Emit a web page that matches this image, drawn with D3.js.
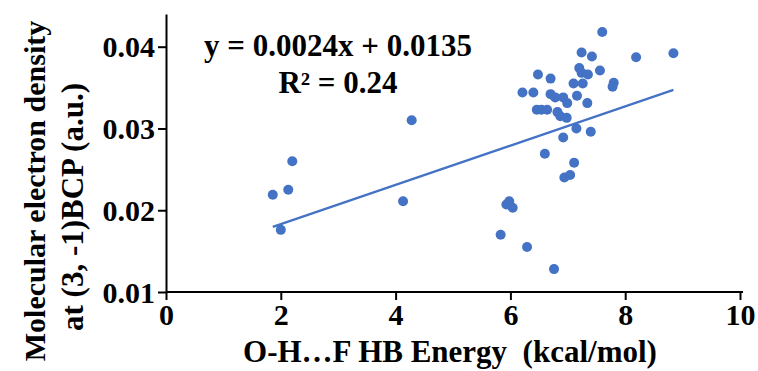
<!DOCTYPE html>
<html>
<head>
<meta charset="utf-8">
<script src="https://cdn.jsdelivr.net/npm/d3@7"></script>
<style>
  body { margin: 0; background: #fff; }
  svg text { font-family: 'Liberation Serif', 'Times New Roman', serif; font-weight: bold; fill: #000; }
</style>
</head>
<body>
<svg id="chart" width="758" height="371"></svg>
<script>
// HB energy (kcal/mol) vs electron density at BCP (a.u.)
var energy = [
  1.86, 2.13, 2.20, 2.00, 4.13, 4.28,
  5.83, 6.29, 6.76, 5.93, 5.98, 6.04,
  6.60, 6.94, 7.04, 7.11, 6.92, 7.15, 7.40,
  7.60, 7.24, 7.42, 8.19, 8.84,
  7.20, 7.24, 7.35, 7.56, 7.10, 7.26, 7.80, 7.78,
  6.48, 6.70, 6.21, 6.40, 6.70, 6.78, 6.92, 6.99, 7.16, 7.34,
  6.46, 6.54, 6.64, 6.82, 6.87, 6.98
]
var density = [
  0.0219, 0.0225, 0.0260, 0.0176, 0.0211, 0.0310,
  0.0170, 0.0155, 0.0128, 0.0207, 0.0211, 0.0203,
  0.0269, 0.0240, 0.0243, 0.0258, 0.0289, 0.0300, 0.0296,
  0.0418, 0.0393, 0.0388, 0.0387, 0.0392,
  0.0374, 0.0368, 0.0366, 0.0371, 0.0355, 0.0355, 0.0356, 0.0351,
  0.0366, 0.0361, 0.0344, 0.0344, 0.0342, 0.0338, 0.0338, 0.0331, 0.0340, 0.0331,
  0.0323, 0.0323, 0.0323, 0.0320, 0.0315, 0.0313
]

// Linear fit shown on the chart
var slope = 0.0024
var intercept = 0.0135
var fitRange = [1.86, 8.84]

var xTicks = [0, 2, 4, 6, 8, 10]
var yTicks = [0.01, 0.02, 0.03, 0.04]

var blue = '#4472c4'
var svg = d3.select('#chart')

// Scales
var x = d3.scaleLinear().domain([0, 10]).range([166, 740])
var y = d3.scaleLinear().domain([0.01, 0.044]).range([292, 14])

// Axes
var xAxis = d3.axisBottom(x)
  .tickValues(xTicks)
  .tickFormat(d3.format('d'))
  .tickSizeInner(8)
  .tickSizeOuter(0)
  .tickPadding(4)

var yAxis = d3.axisLeft(y)
  .tickValues(yTicks)
  .tickFormat(d3.format('.2f'))
  .tickSizeInner(8)
  .tickSizeOuter(0)
  .tickPadding(3)

var gx = svg.append('g')
  .attr('transform', 'translate(0,292)')
  .call(xAxis)

var gy = svg.append('g')
  .attr('transform', 'translate(166,0)')
  .call(yAxis)

// Stretch x-axis a bit past 10
gx.select('.domain').attr('d', 'M166,0H743')

svg.selectAll('.domain, .tick line')
  .attr('stroke', '#000')
  .attr('stroke-width', 2)

svg.selectAll('.tick text')
  .attr('font-size', 30)
  .style('font-family', "'Liberation Serif', serif")
  .style('font-weight', 'bold')
  .attr('fill', '#000')

gy.selectAll('.tick text').attr('dy', '0.34em')

// Trend line
svg.append('line')
  .attr('x1', x(fitRange[0]))
  .attr('y1', y(slope * fitRange[0] + intercept))
  .attr('x2', x(fitRange[1]))
  .attr('y2', y(slope * fitRange[1] + intercept))
  .attr('stroke', blue)
  .attr('stroke-width', 2.3)

// Points
svg.append('g')
  .selectAll('circle')
  .data(energy)
  .join('circle')
  .attr('cx', d => x(d))
  .attr('cy', (d, i) => y(density[i]))
  .attr('r', 5)
  .attr('fill', blue)

// Equation
svg.append('text')
  .attr('x', 338)
  .attr('y', 56)
  .attr('text-anchor', 'middle')
  .attr('font-size', 31)
  .text('y = 0.0024x + 0.0135')

svg.append('text')
  .attr('x', 338)
  .attr('y', 93)
  .attr('text-anchor', 'middle')
  .attr('font-size', 31)
  .text('R² = 0.24')

// Axis titles
svg.append('text')
  .attr('x', 450)
  .attr('y', 362)
  .attr('text-anchor', 'middle')
  .attr('font-size', 31)
  .text('O-H…F HB Energy  (kcal/mol)')
  .style('white-space', 'pre')

svg.append('text')
  .attr('transform', 'translate(45,191) rotate(-90)')
  .attr('text-anchor', 'middle')
  .attr('font-size', 30)
  .text('Molecular electron density')

svg.append('text')
  .attr('transform', 'translate(83,207) rotate(-90)')
  .attr('text-anchor', 'middle')
  .attr('font-size', 31)
  .text('at (3, -1)BCP (a.u.)')
</script>
</body>
</html>
